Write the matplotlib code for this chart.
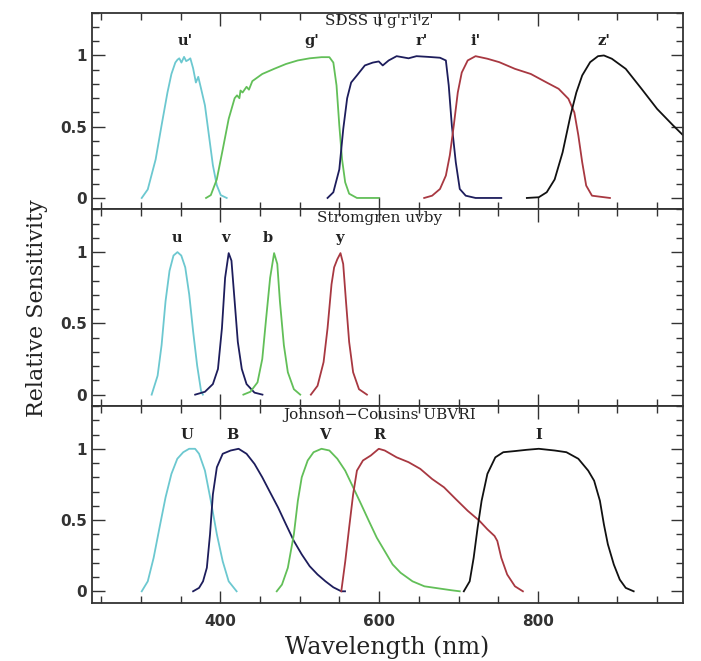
import matplotlib
matplotlib.use("Agg")
import matplotlib.pyplot as plt
from matplotlib.ticker import MultipleLocator

# ---------------- data ----------------
# SDSS u'g'r'i'z'
sdss_u_x = [301, 308.6, 318.5, 326, 333.4, 338.4, 343.3, 346, 348.3, 351, 354.3, 357, 360, 362.2, 365.7, 369.2, 372.2, 375.6, 380.6, 385.6, 390.6, 395.5, 400.5, 408]
sdss_u_y = [0, 0.06, 0.27, 0.51, 0.74, 0.87, 0.95, 0.97, 0.98, 0.95, 0.99, 0.96, 0.97, 0.98, 0.91, 0.81, 0.85, 0.77, 0.65, 0.44, 0.23, 0.09, 0.02, 0]
sdss_g_x = [382, 388, 395.5, 403, 410.5, 418, 421, 424, 425.4, 428, 433, 436, 440.3, 452.8, 467.7, 482.6, 497.5, 512.5, 527.4, 537.3, 542.3, 546.3, 549.8, 553.3, 557.2, 562.2, 572, 599.5]
sdss_g_y = [0, 0.02, 0.13, 0.34, 0.555, 0.70, 0.72, 0.70, 0.754, 0.74, 0.78, 0.76, 0.82, 0.87, 0.906, 0.94, 0.965, 0.98, 0.988, 0.988, 0.95, 0.79, 0.51, 0.27, 0.11, 0.03, 0, 0]
sdss_r_x = [535, 542.3, 549.8, 554.8, 559.7, 564.7, 572, 582, 592, 599.5, 604.5, 612, 622, 637, 647, 661.7, 676.6, 684, 687.6, 691.5, 696.5, 701.5, 709, 721.4, 753.8]
sdss_r_y = [0, 0.04, 0.20, 0.485, 0.70, 0.81, 0.86, 0.93, 0.95, 0.958, 0.93, 0.965, 0.995, 0.98, 0.995, 0.99, 0.984, 0.965, 0.79, 0.51, 0.25, 0.063, 0.016, 0, 0]
sdss_i_x = [656.7, 666.7, 676.6, 684, 689, 694, 699, 704, 711.5, 721.4, 736.3, 751.2, 771, 791, 811, 826, 838.3, 845.8, 850.8, 855.7, 860.7, 868, 890.6]
sdss_i_y = [0, 0.016, 0.063, 0.157, 0.30, 0.51, 0.74, 0.88, 0.965, 0.995, 0.977, 0.953, 0.906, 0.87, 0.81, 0.766, 0.696, 0.60, 0.44, 0.25, 0.087, 0.016, 0]
sdss_z_x = [786, 801, 811, 821, 831, 841, 848.3, 855.7, 865.7, 875.6, 883, 893, 910.5, 930.4, 950, 970, 990]
sdss_z_y = [0, 0.005, 0.04, 0.13, 0.32, 0.58, 0.74, 0.86, 0.953, 0.995, 1.0, 0.977, 0.906, 0.766, 0.625, 0.51, 0.40]

# Stromgren uvby
str_u_x = [313.5, 321, 326, 331, 336, 341, 346, 350.8, 355.8, 360.8, 365.8, 370.8, 375.7, 378]
str_u_y = [0, 0.133, 0.347, 0.656, 0.869, 0.976, 1.0, 0.976, 0.893, 0.703, 0.44, 0.204, 0.026, 0]
str_v_x = [368.3, 380.6, 390.6, 397, 402, 406, 410.5, 414, 418, 422, 427, 433, 443, 453]
str_v_y = [0, 0.02, 0.074, 0.18, 0.466, 0.82, 0.993, 0.94, 0.656, 0.37, 0.18, 0.074, 0.014, 0]
str_b_x = [429, 437.8, 446.8, 452.8, 457.7, 462.7, 467.7, 471.7, 475, 480, 485, 492.6, 500.6]
str_b_y = [0, 0.02, 0.086, 0.25, 0.537, 0.82, 0.993, 0.917, 0.656, 0.347, 0.157, 0.038, 0]
str_y_x = [514, 522.4, 530, 535, 540, 543.3, 547.3, 551.3, 554.7, 558.2, 562.2, 567.2, 574.6, 584.6]
str_y_y = [0, 0.062, 0.228, 0.466, 0.774, 0.893, 0.95, 0.993, 0.917, 0.656, 0.37, 0.157, 0.038, 0]

# Johnson-Cousins UBVRI
jc_U_x = [301, 308.6, 316, 323.4, 331, 338.4, 345.8, 353.3, 360.7, 368.2, 373.2, 380.6, 388, 395.6, 403, 410.5, 420.5]
jc_U_y = [0, 0.07, 0.235, 0.447, 0.659, 0.824, 0.93, 0.976, 1.0, 1.0, 0.965, 0.847, 0.635, 0.40, 0.21, 0.07, 0]
jc_B_x = [365.7, 373.2, 378.2, 383, 387, 390.6, 395.6, 403, 413, 423, 433, 443, 452.8, 462.7, 472.7, 482.6, 492.6, 502.5, 512.5, 522.4, 532.4, 542.3, 552.3, 557]
jc_B_y = [0, 0.024, 0.07, 0.165, 0.40, 0.68, 0.87, 0.965, 0.988, 1.0, 0.965, 0.894, 0.80, 0.694, 0.588, 0.47, 0.353, 0.259, 0.176, 0.118, 0.07, 0.028, 0, 0]
jc_V_x = [471, 477.6, 485, 492.6, 497.6, 502.5, 510, 517.4, 527.4, 537.3, 547.3, 557.2, 567.2, 577.2, 587, 597, 607, 617, 627, 642, 657, 676.6, 691.5, 701.5]
jc_V_y = [0, 0.047, 0.165, 0.40, 0.635, 0.80, 0.918, 0.976, 1.0, 0.988, 0.93, 0.847, 0.73, 0.612, 0.494, 0.376, 0.282, 0.188, 0.13, 0.07, 0.035, 0.019, 0.007, 0]
jc_R_x = [552.3, 557.3, 562.2, 567.2, 572, 579.6, 589.5, 599.5, 607, 622, 637, 651.8, 666.7, 681.6, 696.5, 711.5, 726.4, 736.3, 745.3, 748.8, 753.8, 761.2, 771, 781]
jc_R_y = [0, 0.21, 0.447, 0.68, 0.847, 0.918, 0.953, 1.0, 0.988, 0.94, 0.906, 0.859, 0.788, 0.73, 0.647, 0.565, 0.494, 0.435, 0.388, 0.353, 0.235, 0.118, 0.035, 0]
jc_I_x = [706.6, 714, 719, 724, 729, 736.3, 746.3, 756.3, 771, 786, 801, 821, 835.8, 850.8, 863.2, 870.7, 878, 883, 888, 895.5, 903, 910.5, 920.5]
jc_I_y = [0, 0.07, 0.235, 0.447, 0.635, 0.824, 0.94, 0.976, 0.984, 0.993, 1.0, 0.988, 0.976, 0.93, 0.847, 0.776, 0.635, 0.47, 0.33, 0.188, 0.082, 0.024, 0]

panel_titles = ["SDSS u'g'r'i'z'", "Stromgren uvby", "Johnson\u2212Cousins UBVRI"]
sdss_labels = ["u'", "g'", "r'", "i'", "z'"]
sdss_label_x = [356, 515, 654, 721, 883]
str_labels = ["u", "v", "b", "y"]
str_label_x = [346, 406, 460, 550]
jc_labels = ["U", "B", "V", "R", "I"]
jc_label_x = [358, 415, 531, 600, 801]

x_ticks = [400, 600, 800]
y_ticks = [0, 0.5, 1]
y_tick_labels = ["0", "0.5", "1"]

# ---------------- style ----------------
CYAN = "#6cc8d0"
GREEN = "#62bf58"
NAVY = "#1d1d5c"
RED = "#a83841"
BLACK = "#111111"

fig = plt.figure(figsize=(7.01, 6.61), dpi=100)
left, right = 91.7 / 701, 683.3 / 701
bottom, top = 1 - 602.7 / 661, 1 - 12.7 / 661
h = (top - bottom) / 3
axes = [fig.add_axes([left, top - (i + 1) * h, right - left, h]) for i in range(3)]

panels = [
    ([(sdss_u_x, sdss_u_y, CYAN), (sdss_g_x, sdss_g_y, GREEN), (sdss_r_x, sdss_r_y, NAVY),
      (sdss_i_x, sdss_i_y, RED), (sdss_z_x, sdss_z_y, BLACK)], sdss_labels, sdss_label_x),
    ([(str_u_x, str_u_y, CYAN), (str_v_x, str_v_y, NAVY), (str_b_x, str_b_y, GREEN),
      (str_y_x, str_y_y, RED)], str_labels, str_label_x),
    ([(jc_U_x, jc_U_y, CYAN), (jc_B_x, jc_B_y, NAVY), (jc_V_x, jc_V_y, GREEN),
      (jc_R_x, jc_R_y, RED), (jc_I_x, jc_I_y, BLACK)], jc_labels, jc_label_x),
]

serif = ["DejaVu Serif"]

for i, (ax, (curves, labels, lx)) in enumerate(zip(axes, panels)):
    for xs, ys, c in curves:
        ax.plot(xs, ys, color=c, lw=1.3)
    for lab, x in zip(labels, lx):
        ax.text(x, 1.05, lab, ha="center", va="bottom", fontsize=10.5,
                fontweight="bold", family=serif, color="#222222")
    ax.text(600, 1.24, panel_titles[i], ha="center", va="center",
            fontsize=11, family=serif, color="#222222")
    ax.set_xlim(238, 983)
    ax.set_ylim(-0.08, 1.30)
    ax.xaxis.set_major_locator(MultipleLocator(200))
    ax.xaxis.set_minor_locator(MultipleLocator(50))
    ax.set_yticks(y_ticks)
    ax.set_yticklabels(y_tick_labels)
    ax.yaxis.set_minor_locator(MultipleLocator(0.1))
    ax.tick_params(which="both", direction="in", top=True, right=True, color="#333333")
    ax.tick_params(which="major", length=9, width=1.0, labelsize=11)
    ax.tick_params(which="minor", length=5, width=1.0)
    for lbl in ax.get_yticklabels():
        lbl.set_fontweight("bold")
        lbl.set_color("#333333")
    for s in ax.spines.values():
        s.set_linewidth(1.3)
        s.set_color("#333333")
    if i < 2:
        ax.tick_params(labelbottom=False)

axes[2].set_xticks(x_ticks)
axes[2].set_xticklabels([str(t) for t in x_ticks])
for lbl in axes[2].get_xticklabels():
    lbl.set_fontweight("bold")
    lbl.set_color("#333333")
axes[2].tick_params(axis="x", pad=8)

axes[2].set_xlabel("Wavelength (nm)", fontsize=17, family=serif, labelpad=5, color="#222222")
fig.text(0.053, 0.5 + (bottom + top - 1) / 2, "Relative Sensitivity", rotation=90,
         ha="center", va="center", fontsize=16, family=serif, color="#222222")

fig.savefig("out.png", dpi=100)
